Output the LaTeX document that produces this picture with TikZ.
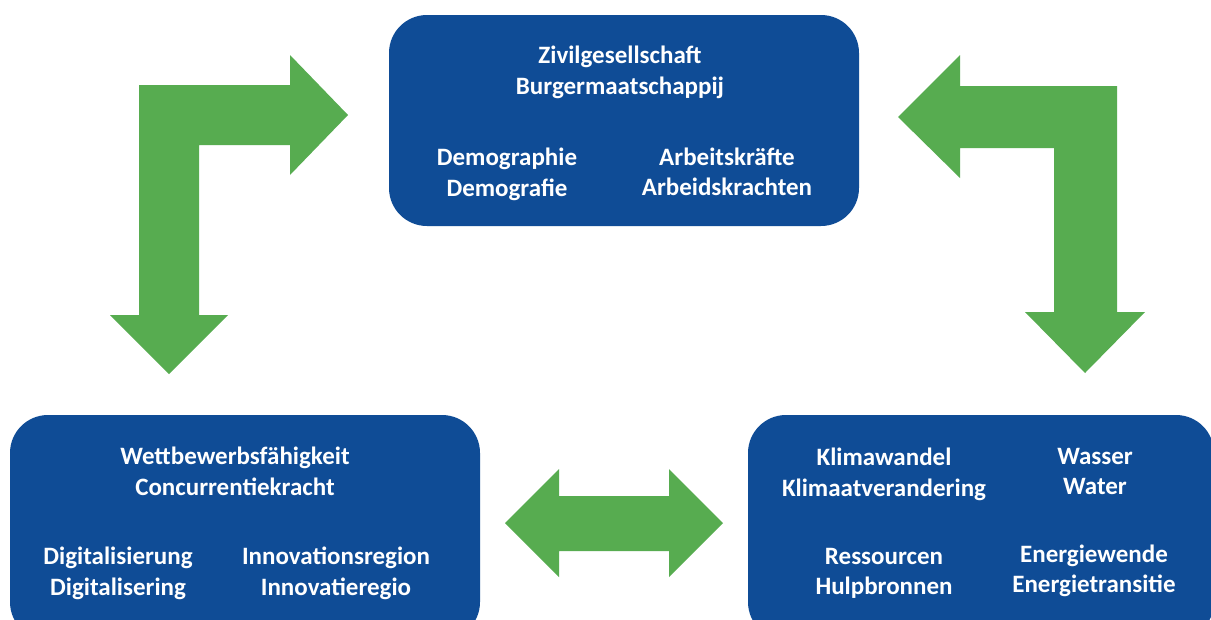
\documentclass[tikz,border=0pt]{standalone}
\usepackage{fontspec}
\setmainfont{Carlito}
\definecolor{boxblue}{RGB}{15,76,150}
\definecolor{arrowgreen}{RGB}{87,172,80}
\begin{document}
\begin{tikzpicture}[x=1pt,y=-1pt,
  box/.style={fill=boxblue, draw=none, rounded corners=38pt, inner sep=0pt},
  lbl/.style={text=white, font=\fontsize{25}{30.5}\selectfont\bfseries, align=center, inner sep=0pt},
  blockarrow/.style={fill=arrowgreen, draw=none}]
\useasboundingbox (0,0) rectangle (1211,619);
\fill[white] (0,0) rectangle (1211,619);
\begin{scope}
\clip (0,0) rectangle (1211,619);
% boxes
\node[box, minimum width=470pt, minimum height=211pt] (topbox) at (624,120.5) {};
\node[box, minimum width=470pt, minimum height=225pt] (leftbox) at (245,527.5) {};
\node[box, minimum width=466pt, minimum height=225pt] (rightbox) at (981,527.5) {};
\end{scope}
% texts top
\node[lbl] (t1) at (620,72.5) {Zivilgesellschaft\\Burgermaatschappij};
\node[lbl] (t2) at (507,174.5) {Demographie\\Demografie};
\node[lbl] (t3) at (727,172) {Arbeitskräfte\\Arbeidskrachten};
% texts left
\node[lbl] (l1) at (235,471.5) {Wettbewerbsfähigkeit\\Concurrentiekracht};
\node[lbl] (l2) at (118,573.5) {Digitalisierung\\Digitalisering};
\node[lbl] (l3) at (336,573.5) {Innovationsregion\\Innovatieregio};
% texts right
\node[lbl] (r1) at (884,474.5) {Klimawandel\\Klimaatverandering};
\node[lbl] (r2) at (1095,471.5) {Wasser\\Water};
\node[lbl] (r3) at (884,573.5) {Ressourcen\\Hulpbronnen};
\node[lbl] (r4) at (1094,571) {Energiewende\\Energietransitie};
% left L arrow
\fill[blockarrow] (348,115) -- (290,55) -- (290,85) -- (139,85) -- (139,315) -- (110,315)
  -- (169,374) -- (228,315) -- (199,315) -- (199,145) -- (290,145) -- (290,175) -- cycle;
% right L arrow
\fill[blockarrow] (898,117) -- (960,55) -- (960,86) -- (1117,86) -- (1117,312) -- (1145,312)
  -- (1085,373) -- (1025,312) -- (1054,312) -- (1054,148) -- (960,148) -- (960,178) -- cycle;
% double arrow
\fill[blockarrow] (505,523) -- (559,469) -- (559,496) -- (669,496) -- (669,469) -- (723,523)
  -- (669,577) -- (669,551) -- (559,551) -- (559,577) -- cycle;
\end{tikzpicture}
\end{document}
